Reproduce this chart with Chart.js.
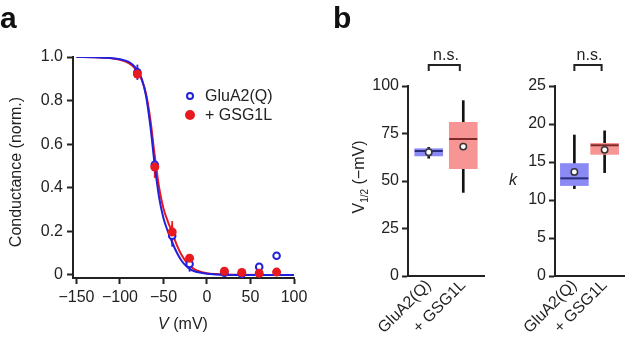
<!DOCTYPE html>
<html>
<head>
<meta charset="utf-8">
<script src="https://cdn.jsdelivr.net/npm/chart.js@4.4.0/dist/chart.umd.min.js"></script>
<style>
  body { margin: 0; background: #fff; }
  #wrap { position: relative; width: 640px; height: 340px; overflow: hidden;
          font-family: 'Liberation Sans', Arial, sans-serif; color: #222; }
  canvas { position: absolute; top: 0; }
  .lbl { position: absolute; white-space: nowrap; font-size: 16px; line-height: 18px; }
  .panel { position: absolute; font-weight: bold; font-size: 30px; line-height: 30px; color: #111; }
  .rot { transform: translate(-50%, -50%) rotate(-90deg); }
  .ctr { transform: translate(-50%, -50%); }
  .mk { position: absolute; border-radius: 50%; box-sizing: border-box; }
</style>
</head>
<body>
<div id="wrap">
  <canvas id="chartA" width="330" height="340" style="left:0"></canvas>
  <canvas id="chartB1" width="170" height="340" style="left:330px"></canvas>
  <canvas id="chartB2" width="150" height="340" style="left:490px"></canvas>

  <div class="panel" style="left:0;top:3px">a</div>
  <div class="panel" style="left:333px;top:3px">b</div>

  <div class="lbl rot" style="left:16px;top:172px">Conductance (norm.)</div>
  <div class="lbl ctr" style="left:183px;top:324px"><i>V</i> (mV)</div>

  <div class="mk" style="left:186px;top:92px;width:8px;height:8px;border:2px solid #2020dd;background:#fff"></div>
  <div class="mk" style="left:185px;top:110px;width:10px;height:10px;background:#e8191f"></div>
  <div class="lbl" style="left:205px;top:87px">GluA2(Q)</div>
  <div class="lbl" style="left:205px;top:106px">+ GSG1L</div>

  <div class="lbl rot" style="left:362px;top:177px">V<sub style="font-size:10px">1/2</sub> (−mV)</div>
  <div class="lbl ctr" style="left:513px;top:180px"><i>k</i></div>
</div>

<script>
"use strict";

// data: conductance-voltage points (panel a)
const voltages = [-80, -60, -40, -20, 20, 40, 60, 80];
const gluaG    = [0.93, 0.505, 0.18, 0.05, 0.01, 0.005, 0.037, 0.088];
const gluaErr  = [0.035, 0.03, 0.05, 0.035, 0.004, 0.003, 0.006, 0.01];
const gsgG     = [0.922, 0.495, 0.197, 0.077, 0.017, 0.011, 0.008, 0.013];
const gsgErr   = [0.02, 0.05, 0.05, 0.01, 0.004, 0.003, 0.003, 0.004];

// fitted curves
const fitV    = [-150, -130, -110, -100, -90, -85, -80, -75, -70, -65, -60, -55, -50, -45, -40, -35, -30, -25, -20, -15, -10, 0, 10, 20, 40, 60, 80, 100];
const gluaFit = [1.0, 0.999, 0.995, 0.99, 0.978, 0.963, 0.94, 0.9, 0.82, 0.68, 0.5, 0.355, 0.26, 0.2, 0.15, 0.105, 0.07, 0.045, 0.028, 0.018, 0.012, 0.005, 0.002, 0.001, 0, 0, 0, 0];
const gsgFit  = [1.0, 0.999, 0.994, 0.987, 0.972, 0.957, 0.932, 0.895, 0.83, 0.71, 0.545, 0.4, 0.305, 0.245, 0.195, 0.14, 0.097, 0.066, 0.043, 0.028, 0.018, 0.008, 0.004, 0.002, 0.0005, 0, 0, 0];

const xTicks = [-150, -100, -50, 0, 50, 100];

// data: box plots (panel b)
const groups = ['GluA2(Q)', '+ GSG1L'];
const vhalfMin    = [62.0, 44.0];
const vhalfQ1     = [63.2, 56.5];
const vhalfMedian = [65.8, 72.1];
const vhalfQ3     = [67.0, 80.9];
const vhalfMax    = [67.7, 92.3];
const vhalfMean   = [65.1, 68.1];

const kMin    = [11.5, 13.6];
const kQ1     = [11.9, 16.0];
const kMedian = [12.85, 17.2];
const kQ3     = [14.8, 17.46];
const kMax    = [18.55, 19.1];
const kMean   = [13.7, 16.6];

const BLUE = '#2020dd';
const RED = '#e8191f';
const INK = '#222';
const FONT = { family: "'Liberation Sans', Arial, sans-serif", size: 16 };

Chart.defaults.font = FONT;
Chart.defaults.color = INK;

function xy(xs, ys) {
  return xs.map((x, i) => ({ x: x, y: ys[i] }));
}

function minus(v) {
  return v < 0 ? '\u2212' + Math.abs(v) : String(v);
}

function errorBars(series) {
  return {
    id: 'errorBars',
    beforeDatasetsDraw(chart) {
      const { ctx, scales: { x, y } } = chart;
      ctx.save();
      ctx.lineWidth = 1.8;
      for (const s of series) {
        ctx.strokeStyle = s.color;
        s.xs.forEach((v, i) => {
          const px = x.getPixelForValue(v);
          ctx.beginPath();
          ctx.moveTo(px, y.getPixelForValue(s.ys[i] - s.err[i]));
          ctx.lineTo(px, y.getPixelForValue(s.ys[i] + s.err[i]));
          ctx.stroke();
        });
      }
      ctx.restore();
    }
  };
}

// significance bracket above the two boxes
function bracket(text) {
  return {
    id: 'bracket',
    afterDraw(chart) {
      const { ctx, chartArea, scales: { x } } = chart;
      const x0 = x.getPixelForValue(0), x1 = x.getPixelForValue(0.9);
      const yb = chartArea.top - 21;
      ctx.save();
      ctx.strokeStyle = INK;
      ctx.lineWidth = 2;
      ctx.beginPath();
      ctx.moveTo(x0, yb + 6);
      ctx.lineTo(x0, yb);
      ctx.lineTo(x1, yb);
      ctx.lineTo(x1, yb + 6);
      ctx.stroke();
      ctx.fillStyle = INK;
      ctx.font = "16px 'Liberation Sans', Arial, sans-serif";
      ctx.textAlign = 'center';
      ctx.textBaseline = 'alphabetic';
      ctx.fillText(text, x.getPixelForValue(0.5), yb - 5);
      ctx.restore();
    }
  };
}

const axisGrid = { drawOnChartArea: false, drawTicks: true, tickLength: 6, tickWidth: 2, tickColor: INK };
const axisBorder = { color: INK, width: 2 };

// panel a
new Chart(document.getElementById('chartA'), {
  type: 'scatter',
  data: {
    datasets: [
      { data: xy(voltages, gsgG), pointRadius: 4.5, pointBackgroundColor: RED, pointBorderWidth: 0 },
      { data: xy(voltages, gluaG), pointRadius: 3.3, pointBackgroundColor: '#fff', pointBorderColor: BLUE, pointBorderWidth: 2 },
      { type: 'line', data: xy(fitV, gluaFit), borderColor: BLUE, borderWidth: 2, pointRadius: 0, cubicInterpolationMode: 'monotone' },
      { type: 'line', data: xy(fitV, gsgFit), borderColor: RED, borderWidth: 2, pointRadius: 0, cubicInterpolationMode: 'monotone' }
    ]
  },
  options: {
    responsive: false,
    animation: false,
    devicePixelRatio: 1,
    layout: { padding: { top: 57, right: 36, left: 0, bottom: 0 } },
    plugins: { legend: { display: false }, tooltip: { enabled: false } },
    scales: {
      x: {
        type: 'linear', min: -154, max: 100,
        grid: axisGrid, border: axisBorder,
        afterBuildTicks: s => { s.ticks = xTicks.map(v => ({ value: v })); },
        afterFit: s => { s.height = 62; },
        ticks: { padding: 4, maxRotation: 0, callback: v => minus(v) }
      },
      y: {
        min: -0.014, max: 1.0,
        grid: axisGrid, border: axisBorder,
        afterFit: s => { s.width = 73; },
        ticks: { stepSize: 0.2, includeBounds: false, padding: 4,
                 callback: v => (Math.abs(v) < 1e-9 ? '0' : v.toFixed(1)) }
      }
    }
  },
  plugins: [errorBars([
    { xs: voltages, ys: gluaG, err: gluaErr, color: BLUE },
    { xs: voltages, ys: gsgG, err: gsgErr, color: RED }
  ])]
});

function boxChart(id, lo, q1, med, q3, hi, mean, yMax, yStep, xMin, xMax, yWidth, padRight) {
  const idx = [0, 1];
  return new Chart(document.getElementById(id), {
    type: 'bar',
    data: {
      datasets: [
        { type: 'line', data: xy(idx, mean), showLine: false, pointRadius: 3.2,
          pointBackgroundColor: '#fff', pointBorderColor: '#333', pointBorderWidth: 1.5, order: 0 },
        { type: 'line', data: xy(idx, med), showLine: false, pointStyle: 'line', pointRadius: 14,
          pointBorderColor: ['#2c2c7e', '#7e2a2a'], pointBorderWidth: 2, order: 1 },
        { data: idx.map(i => ({ x: i, y: [q1[i], q3[i]] })), backgroundColor: ['#8a8af4', '#f79494'],
          barThickness: 28, grouped: false, order: 2 },
        { data: idx.map(i => ({ x: i, y: [lo[i], hi[i]] })), backgroundColor: '#111',
          barThickness: 2, grouped: false, order: 3 }
      ]
    },
    options: {
      responsive: false,
      animation: false,
      devicePixelRatio: 1,
      layout: { padding: { top: 86, right: padRight, left: 0, bottom: 0 } },
      plugins: { legend: { display: false }, tooltip: { enabled: false } },
      scales: {
        x: {
          type: 'linear', min: xMin, max: xMax, offset: false,
          grid: { display: false, drawTicks: false }, border: axisBorder,
          afterBuildTicks: s => { s.ticks = idx.map(v => ({ value: v })); },
          afterFit: s => { s.height = 64; },
          ticks: { autoSkip: false, minRotation: 45, maxRotation: 45, padding: 0,
                   callback: v => groups[v] }
        },
        y: {
          min: 0, max: yMax,
          grid: axisGrid, border: axisBorder,
          afterFit: s => { s.width = yWidth; },
          ticks: { stepSize: yStep, padding: 3 }
        }
      }
    },
    plugins: [bracket('n.s.')]
  });
}

boxChart('chartB1', vhalfMin, vhalfQ1, vhalfMedian, vhalfQ3, vhalfMax, vhalfMean, 100, 25, -0.6, 1.6, 78, 11);
boxChart('chartB2', kMin, kQ1, kMedian, kQ3, kMax, kMean, 25, 5, -0.64, 1.64, 65, 0);
</script>
</body>
</html>
